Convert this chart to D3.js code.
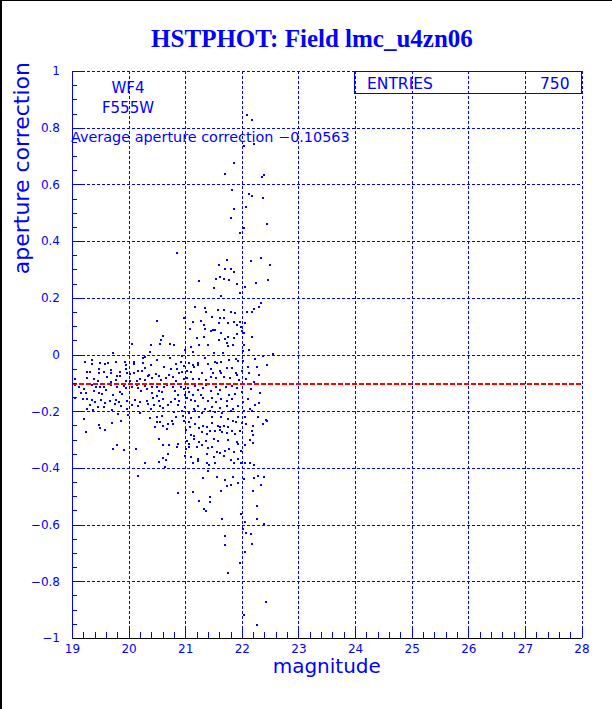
<!DOCTYPE html>
<html><head><meta charset="utf-8">
<script src="https://cdn.jsdelivr.net/npm/d3@7"></script>
<style>body{margin:0;background:#fff}svg{display:block}</style>
</head><body>
<svg id="c" width="612" height="709"></svg>
<script>
const title = "HSTPHOT: Field lmc_u4zn06";
const xLabel = "magnitude";
const yLabel = "aperture correction";
const chipLabels = ["WF4", "F555W"];
const entries = 750;
const avgCorrection = -0.10563;
const xTicks = [19, 20, 21, 22, 23, 24, 25, 26, 27, 28];
const xTickLabels = ["19", "20", "21", "22", "23", "24", "25", "26", "27", "28"];
const yTicks = [-1, -0.8, -0.6, -0.4, -0.2, 0, 0.2, 0.4, 0.6, 0.8, 1];
const yTickLabels = ["\u22121", "\u22120.8", "\u22120.6", "\u22120.4", "\u22120.2", "0", "0.2", "0.4", "0.6", "0.8", "1"];

// [magnitude, aperture correction]
const upperPoints = [
[22.10,0.846],[22.18,0.827],[22.22,0.741],[22.03,0.735],[21.87,0.674],[21.71,0.638],[22.39,0.633],[22.35,0.627],[21.83,0.581],[22.13,0.567],[22.18,0.559],[22.38,0.551],[21.87,0.514],[22.08,0.520],[21.81,0.483],[22.45,0.459],[22.04,0.447],[21.97,0.427],[20.85,0.359],[22.49,0.315],[22.46,0.264],[22.33,0.342],[22.16,0.331],[22.25,0.253],[21.73,0.333],[21.59,0.316],[21.71,0.300],[21.80,0.302],[21.87,0.292],[21.61,0.274],[21.54,0.266],[21.68,0.266],[21.77,0.263],[21.25,0.259],[21.92,0.250],[21.51,0.236],[22.06,0.237],[21.96,0.218],[21.64,0.207],[22.34,0.180],[22.30,0.166],[22.21,0.160],[22.18,0.151],[22.09,0.150],[21.18,0.166],[21.35,0.164],[21.58,0.156],[21.69,0.158],[21.81,0.150],[21.88,0.147],[21.36,0.150],[21.48,0.133],[21.62,0.128],[21.68,0.129],[21.14,0.116],[21.28,0.119],[21.59,0.112],[21.75,0.110],[21.86,0.114],[21.97,0.116],[22.05,0.112],[21.34,0.105],[21.91,0.103],[21.35,0.090],[21.09,0.089],[21.49,0.085],[21.53,0.085],[21.45,0.082],[21.99,0.096],[22.00,0.084],[22.03,0.076],[21.33,0.063],[21.63,0.075],[21.75,0.061],[21.87,0.059],[21.92,0.071],[21.20,0.058],[22.18,0.062],[20.50,0.118],[20.97,0.128],[20.61,0.066],[21.60,0.051],[21.70,0.054]
];
const brightPoints = [
[21.73,0.040],[21.85,0.035],[21.76,0.029],[22.04,0.035],[21.25,0.035],[21.40,0.035],[20.80,0.034],[21.10,0.026],[21.14,0.008],[21.00,0.016],[22.02,0.013],[22.13,0.016],[21.51,0.004],[21.67,0.004],[20.94,-0.005],[20.84,-0.034],[20.92,-0.026],[20.97,-0.041],[21.06,-0.029],[21.14,-0.038],[21.23,-0.031],[21.35,-0.012],[21.41,-0.034],[21.52,-0.025],[21.56,-0.029],[21.64,-0.026],[21.77,-0.019],[21.89,-0.015],[21.94,-0.023],[22.02,-0.024],[22.38,-0.005],[22.24,-0.017],[22.11,-0.043],[22.26,-0.043],[20.86,-0.052],[20.89,-0.066],[20.95,-0.061],[21.03,-0.057],[21.10,-0.062],[21.16,-0.045],[21.22,-0.038],[21.29,-0.066],[21.45,-0.052],[21.49,-0.064],[21.61,-0.059],[21.64,-0.066],[21.73,-0.049],[21.82,-0.049],[21.89,-0.066],[21.91,-0.073],[22.01,-0.059],[22.13,-0.066],[22.30,-0.071],[20.79,-0.078],[20.83,-0.092],[20.97,-0.086],[21.04,-0.084],[21.13,-0.085],[21.25,-0.085],[21.37,-0.090],[21.45,-0.078],[21.54,-0.084],[21.69,-0.078],[21.79,-0.082],[21.95,-0.090],[22.08,-0.087],[22.21,-0.096],[20.78,-0.114],[20.82,-0.130],[20.93,-0.116],[20.97,-0.123],[21.05,-0.118],[21.07,-0.132],[21.17,-0.111],[21.23,-0.125],[21.31,-0.119],[21.37,-0.107],[21.45,-0.128],[21.55,-0.114],[21.62,-0.125],[21.72,-0.116],[21.83,-0.111],[21.92,-0.119],[22.01,-0.132],[22.16,-0.123],[22.32,-0.137],[20.88,-0.144],[21.00,-0.142],[21.13,-0.144],[21.28,-0.142],[21.58,-0.139],[21.78,-0.144],[21.88,-0.139],[20.82,-0.156],[20.89,-0.165],[21.03,-0.153],[21.10,-0.160],[21.18,-0.163],[21.31,-0.153],[21.40,-0.163],[21.48,-0.153],[21.54,-0.168],[21.64,-0.158],[21.73,-0.163],[21.83,-0.156],[22.02,-0.166],[22.11,-0.156],[22.23,-0.178],[22.30,-0.170],[20.87,-0.178],[21.00,-0.184],[21.15,-0.191],[21.23,-0.182],[21.35,-0.191],[21.47,-0.184],[21.61,-0.189],[21.74,-0.181],[21.85,-0.191],[21.94,-0.182],[22.14,-0.192],[20.80,-0.203],[20.94,-0.200],[21.06,-0.205],[21.18,-0.198],[21.30,-0.207],[21.43,-0.200],[21.52,-0.203],[21.65,-0.205],[21.81,-0.200],[22.04,-0.200],[22.18,-0.200],[20.83,-0.222],[20.96,-0.217],[21.11,-0.224],[21.24,-0.219],[21.47,-0.222],[21.63,-0.222],[21.75,-0.226],[21.94,-0.222],[22.05,-0.222],[22.28,-0.219],[22.55,0.003],[22.44,-0.038],[22.43,-0.231]
];
const faintPoints = [
[20.06,0.037],[20.39,0.035],[20.56,0.036],[20.57,0.051],[20.73,0.036],[20.37,0.009],[19.72,0.004],[19.23,-0.028],[19.36,-0.019],[19.35,-0.034],[19.49,-0.031],[19.58,-0.035],[19.63,-0.030],[19.77,-0.028],[19.95,-0.036],[19.94,-0.028],[20.09,-0.026],[20.10,-0.035],[20.25,-0.029],[20.29,-0.010],[20.26,-0.012],[20.40,-0.036],[20.50,-0.020],[20.63,-0.043],[20.73,-0.013],[19.26,-0.063],[19.32,-0.063],[19.47,-0.052],[19.48,-0.066],[19.56,-0.061],[19.69,-0.054],[19.69,-0.064],[19.79,-0.077],[19.85,-0.062],[19.85,-0.076],[19.95,-0.051],[19.97,-0.066],[20.03,-0.070],[20.09,-0.066],[20.17,-0.059],[20.23,-0.058],[20.29,-0.049],[20.36,-0.072],[20.34,-0.076],[20.48,-0.068],[20.54,-0.077],[20.72,-0.073],[20.74,-0.052],[19.05,-0.085],[19.26,-0.084],[19.39,-0.085],[19.46,-0.092],[19.61,-0.078],[19.69,-0.096],[19.78,-0.091],[19.96,-0.092],[20.03,-0.092],[20.14,-0.093],[20.21,-0.087],[20.29,-0.090],[20.42,-0.084],[20.57,-0.090],[20.66,-0.084],[19.05,-0.109],[19.12,-0.114],[19.22,-0.121],[19.30,-0.103],[19.35,-0.108],[19.43,-0.116],[19.49,-0.116],[19.38,-0.129],[19.56,-0.114],[19.60,-0.125],[19.69,-0.108],[19.79,-0.114],[19.85,-0.131],[19.92,-0.111],[19.95,-0.118],[20.06,-0.116],[20.14,-0.109],[20.17,-0.119],[20.22,-0.129],[20.29,-0.111],[20.33,-0.123],[20.42,-0.114],[20.51,-0.116],[20.54,-0.128],[20.63,-0.116],[20.68,-0.108],[20.59,-0.132],[19.25,-0.137],[19.16,-0.135],[19.47,-0.137],[19.53,-0.140],[19.73,-0.142],[19.88,-0.140],[20.41,-0.137],[20.50,-0.146],[19.05,-0.152],[19.20,-0.157],[19.26,-0.156],[19.36,-0.160],[19.41,-0.166],[19.52,-0.160],[19.59,-0.170],[19.67,-0.164],[19.77,-0.160],[19.83,-0.168],[19.98,-0.164],[20.11,-0.160],[20.20,-0.168],[20.32,-0.164],[20.43,-0.154],[20.53,-0.164],[20.60,-0.158],[20.74,-0.166],[19.32,-0.179],[19.46,-0.186],[19.56,-0.184],[19.76,-0.175],[19.87,-0.183],[20.06,-0.178],[20.16,-0.182],[20.34,-0.176],[20.45,-0.177],[20.55,-0.182],[20.70,-0.177],[19.26,-0.191],[19.37,-0.196],[19.70,-0.196],[19.97,-0.192],[20.40,-0.193],[20.60,-0.190],[19.82,-0.210],[19.99,-0.212],[20.20,-0.207],[20.50,-0.222],[20.59,-0.217],[19.21,-0.226],[20.37,-0.224]
];
const lowerPoints = [
[19.47,-0.250],[19.49,-0.259],[19.58,-0.266],[19.25,-0.273],[19.70,-0.243],[19.86,-0.233],[20.50,-0.238],[20.56,-0.238],[20.47,-0.257],[20.61,-0.252],[20.69,-0.245],[20.78,-0.245],[20.76,-0.233],[20.67,-0.264],[20.98,-0.236],[21.07,-0.237],[21.09,-0.255],[21.17,-0.245],[21.25,-0.259],[21.31,-0.252],[21.38,-0.255],[21.47,-0.241],[21.58,-0.252],[21.62,-0.257],[21.69,-0.252],[21.75,-0.257],[21.85,-0.233],[21.89,-0.237],[22.01,-0.243],[22.07,-0.245],[22.20,-0.252],[22.37,-0.245],[22.44,-0.235],[21.02,-0.266],[21.11,-0.283],[21.16,-0.287],[21.29,-0.273],[21.38,-0.280],[21.44,-0.269],[21.52,-0.271],[21.61,-0.266],[21.65,-0.273],[21.73,-0.278],[21.82,-0.271],[21.88,-0.280],[21.96,-0.269],[22.18,-0.269],[22.20,-0.283],[20.53,-0.297],[21.04,-0.305],[21.07,-0.316],[21.15,-0.299],[21.24,-0.309],[21.29,-0.318],[21.36,-0.304],[21.50,-0.299],[21.58,-0.306],[21.75,-0.302],[21.92,-0.309],[21.94,-0.316],[22.05,-0.318],[22.14,-0.302],[22.20,-0.313],[19.80,-0.320],[19.73,-0.332],[19.91,-0.337],[20.13,-0.332],[20.60,-0.318],[20.72,-0.320],[20.85,-0.325],[20.87,-0.316],[21.01,-0.334],[21.07,-0.325],[21.20,-0.327],[21.41,-0.330],[21.47,-0.325],[21.57,-0.344],[21.62,-0.348],[21.70,-0.339],[21.78,-0.334],[21.87,-0.344],[21.99,-0.339],[20.70,-0.351],[20.60,-0.365],[20.53,-0.378],[20.66,-0.371],[20.29,-0.384],[21.00,-0.358],[21.10,-0.363],[21.23,-0.370],[21.39,-0.351],[21.50,-0.360],[21.69,-0.358],[21.80,-0.372],[21.94,-0.368],[21.14,-0.384],[21.22,-0.377],[21.38,-0.384],[21.42,-0.389],[21.52,-0.382],[21.86,-0.382],[21.99,-0.384],[22.06,-0.382],[22.14,-0.384],[22.21,-0.389],[20.64,-0.396],[21.41,-0.410],[20.16,-0.427],[21.32,-0.436],[21.57,-0.431],[21.71,-0.443],[21.85,-0.431],[22.03,-0.438],[22.22,-0.436],[22.29,-0.427],[22.40,-0.431],[21.81,-0.459],[21.73,-0.463],[21.94,-0.454],[22.33,-0.459],[21.64,-0.480],[20.87,-0.487],[21.14,-0.484],[22.20,-0.480],[21.44,-0.502],[21.24,-0.518],[21.44,-0.520],[22.26,-0.534],[21.34,-0.544],[21.36,-0.551],[21.65,-0.580],[22.06,-0.590],[22.26,-0.579],[21.99,-0.563],[22.40,-0.597],[22.02,-0.615],[22.08,-0.629],[22.16,-0.634],[22.18,-0.668],[21.70,-0.639],[21.71,-0.672],[22.06,-0.698],[21.96,-0.734],[21.75,-0.770],[22.43,-0.873],[22.04,-0.918],[22.26,-0.955]
];

const points = [].concat(upperPoints, brightPoints, faintPoints, lowerPoints);

const BLUE = "#0000ff";
const FONT = "'DejaVu Sans', sans-serif";
const svg = d3.select("#c");
const L = 72, R = 581.5, T = 71, B = 638;
const x = d3.scaleLinear().domain([19, 28]).range([L, R]);
const y = d3.scaleLinear().domain([-1, 1]).range([B, T]);

// outer window border (left & top)
svg.append("line").attr("x1", 1).attr("x2", 1).attr("y1", 0).attr("y2", 709).attr("stroke", "#000").attr("stroke-width", 2);
svg.append("line").attr("x1", 0).attr("x2", 612).attr("y1", 0.5).attr("y2", 0.5).attr("stroke", "#000").attr("stroke-width", 1);

// title
svg.append("text").attr("x", 312).attr("y", 47).attr("text-anchor", "middle")
  .attr("font-family", "'Liberation Serif', serif").attr("font-weight", "bold").attr("font-size", 25)
  .attr("fill", BLUE).text(title);

// grid
const g = svg.append("g").attr("shape-rendering", "crispEdges");
g.selectAll(".vg").data(xTicks.slice(1)).join("line").attr("class", "vg")
  .attr("x1", d => Math.round(x(d)) + 0.5).attr("x2", d => Math.round(x(d)) + 0.5)
  .attr("y1", T).attr("y2", B).attr("stroke", BLUE).attr("stroke-width", 1).attr("stroke-dasharray", "3,2");
g.selectAll(".hg").data(yTicks.slice(1)).join("line").attr("class", "hg")
  .attr("y1", d => Math.round(y(d)) + 0.5).attr("y2", d => Math.round(y(d)) + 0.5)
  .attr("x1", L).attr("x2", R).attr("stroke", BLUE).attr("stroke-width", 1).attr("stroke-dasharray", "3,2");

// points
svg.append("g").attr("shape-rendering", "crispEdges").selectAll("rect").data(points).join("rect")
  .attr("x", d => Math.round(x(d[0])) - 1).attr("y", d => Math.round(y(d[1])) - 1)
  .attr("width", 2).attr("height", 2).attr("fill", BLUE);

// average line
svg.append("line").attr("x1", L).attr("x2", R)
  .attr("y1", Math.round(y(avgCorrection))).attr("y2", Math.round(y(avgCorrection)))
  .attr("stroke", "#ff0000").attr("stroke-width", 2).attr("stroke-dasharray", "5,2")
  .attr("shape-rendering", "crispEdges");

// axes
const xMinor = d3.range(19, 28.001, 0.2);
const yMinor = d3.range(-1, 1.0001, 0.05);
const xa = svg.append("g").attr("transform", `translate(0,${B})`).attr("shape-rendering", "crispEdges")
  .call(d3.axisBottom(x).tickValues(xMinor).tickSize(-6).tickSizeOuter(0).tickFormat(""));
xa.select(".domain").remove();
const xb = svg.append("g").attr("transform", `translate(0,${B})`).attr("shape-rendering", "crispEdges")
  .call(d3.axisBottom(x).tickValues(xTicks).tickSize(-12).tickSizeOuter(0).tickPadding(6)
    .tickFormat((d, i) => xTickLabels[i]));
xb.select(".domain").attr("stroke", "#000");
[xa, xb].forEach(a => a.selectAll(".tick line").attr("stroke", BLUE));
xb.selectAll(".tick text").attr("fill", BLUE).attr("font-family", FONT).attr("font-size", 12);

const ya = svg.append("g").attr("transform", `translate(${L},0)`).attr("shape-rendering", "crispEdges")
  .call(d3.axisLeft(y).tickValues(yMinor).tickSize(-5).tickSizeOuter(0).tickFormat(""));
ya.select(".domain").remove();
const yb = svg.append("g").attr("transform", `translate(${L},0)`).attr("shape-rendering", "crispEdges")
  .call(d3.axisLeft(y).tickValues(yTicks).tickSize(-10).tickSizeOuter(0).tickPadding(12)
    .tickFormat((d, i) => yTickLabels[i]));
yb.select(".domain").attr("stroke", BLUE);
[ya, yb].forEach(a => a.selectAll(".tick line").attr("stroke", BLUE));
yb.selectAll(".tick text").attr("fill", BLUE).attr("font-family", FONT).attr("font-size", 12);
xb.raise();

// axis titles
svg.append("text").attr("x", (L + R) / 2).attr("y", 673).attr("text-anchor", "middle")
  .attr("font-family", FONT).attr("font-size", 20).attr("fill", BLUE).text(xLabel);
svg.append("text").attr("transform", "translate(29,62) rotate(-90)").attr("text-anchor", "end")
  .attr("font-family", FONT).attr("font-size", 22).attr("fill", BLUE).text(yLabel);

// chip / filter labels
svg.append("text").attr("x", 128).attr("y", 93).attr("text-anchor", "middle")
  .attr("font-family", FONT).attr("font-size", 15).attr("fill", BLUE).text(chipLabels[0]);
svg.append("text").attr("x", 128).attr("y", 113).attr("text-anchor", "middle")
  .attr("font-family", FONT).attr("font-size", 15).attr("fill", BLUE).text(chipLabels[1]);
svg.append("text").attr("x", 71).attr("y", 142)
  .attr("font-family", FONT).attr("font-size", 14.4).attr("fill", BLUE)
  .text("Average aperture correction " + d3.format(".5f")(avgCorrection));

// stats box
svg.append("rect").attr("x", 354.5).attr("y", 71.5).attr("width", 226.5).attr("height", 21.5)
  .attr("fill", "none").attr("stroke", BLUE).attr("stroke-width", 1).attr("shape-rendering", "crispEdges");
svg.append("text").attr("x", 367).attr("y", 88.5).attr("font-family", FONT)
  .attr("font-size", 15.5).attr("fill", BLUE).text("ENTRIES");
svg.append("text").attr("x", 569.5).attr("y", 88.5).attr("text-anchor", "end").attr("font-family", FONT)
  .attr("font-size", 15.5).attr("fill", BLUE).text(String(entries));
</script>
</body></html>
